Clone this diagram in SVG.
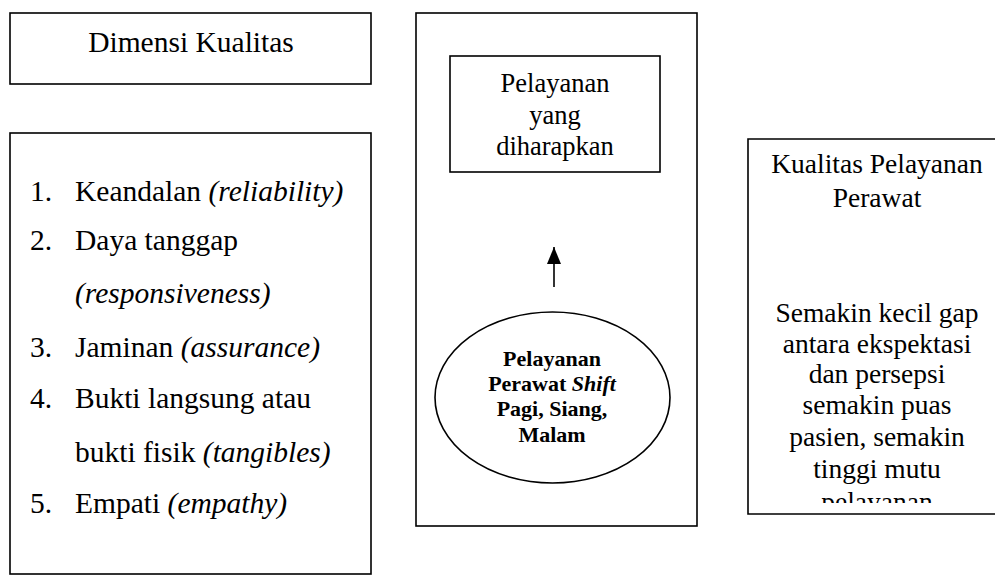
<svg xmlns="http://www.w3.org/2000/svg" width="995" height="576" viewBox="0 0 995 576">
  <style>
    .box { fill: none; stroke: #000; stroke-width: 1.6; }
    text { font-family: "Liberation Serif", "DejaVu Serif", serif; fill: #000; }
    .c { text-anchor: middle; }
    .i { font-style: italic; }
    .b { font-weight: bold; }
    .lg { font-size: 29.5px; }
    .md { font-size: 27.5px; }
    .sm { font-size: 26.5px; }
    .el { font-size: 22px; }
    .conn { stroke: #000; stroke-width: 1.6; fill: none; }
  </style>
  <defs>
    <marker id="arrow" viewBox="0 0 17 14" refX="17" refY="7" markerWidth="17" markerHeight="14" markerUnits="userSpaceOnUse" orient="auto">
      <path d="M0,0 L17,7 L0,14 Z" fill="#000"/>
    </marker>
    <clipPath id="rightClip">
      <rect x="748" y="139" width="260" height="364"/>
    </clipPath>
  </defs>
  <rect width="995" height="576" fill="#fff"/>

  <!-- Quality dimensions heading -->
  <g id="dimensi-kualitas">
    <rect class="box" x="10" y="13" width="361" height="71"/>
    <text class="c lg" x="191" y="52">Dimensi Kualitas</text>
  </g>

  <!-- List of dimensions -->
  <g id="daftar-dimensi">
    <rect class="box" x="10" y="133" width="361" height="441"/>
    <g class="lg">
      <text x="30" y="201">1.</text>
      <text x="75" y="201">Keandalan <tspan class="i">(reliability)</tspan></text>
      <text x="30" y="250">2.</text>
      <text x="75" y="250">Daya tanggap</text>
      <text x="75" y="303" class="i">(responsiveness)</text>
      <text x="30" y="357">3.</text>
      <text x="75" y="357">Jaminan <tspan class="i">(assurance)</tspan></text>
      <text x="30" y="408">4.</text>
      <text x="75" y="408">Bukti langsung atau</text>
      <text x="75" y="462">bukti fisik <tspan class="i">(tangibles)</tspan></text>
      <text x="30" y="513">5.</text>
      <text x="75" y="513">Empati <tspan class="i">(empathy)</tspan></text>
    </g>
  </g>

  <!-- Middle frame -->
  <g id="bingkai-tengah">
    <rect class="box" x="416" y="13" width="281" height="513"/>
  </g>

  <!-- Expected service -->
  <g id="pelayanan-diharapkan">
    <rect class="box" x="450" y="56" width="210" height="116"/>
    <text class="c sm" x="555" y="92">Pelayanan</text>
    <text class="c sm" x="555" y="124">yang</text>
    <text class="c sm" x="555" y="155">diharapkan</text>
  </g>

  <!-- Shift nursing service -->
  <g id="pelayanan-perawat-shift">
    <ellipse class="box" cx="552.5" cy="397.5" rx="117.5" ry="85.5"/>
    <g class="c b el">
      <text x="552" y="366">Pelayanan</text>
      <text x="552" y="391">Perawat <tspan class="i">Shift</tspan></text>
      <text x="552" y="416">Pagi, Siang,</text>
      <text x="552" y="442">Malam</text>
    </g>
  </g>

  <!-- Nurse service quality (open on the right, last line cut by the frame) -->
  <g id="kualitas-pelayanan-perawat">
    <path class="box" d="M1000,139 H748 V514 H1000"/>
    <g class="c md" clip-path="url(#rightClip)">
      <text x="877" y="173">Kualitas Pelayanan</text>
      <text x="877" y="207">Perawat</text>
      <text x="877" y="322">Semakin kecil gap</text>
      <text x="877" y="353">antara ekspektasi</text>
      <text x="877" y="383">dan persepsi</text>
      <text x="877" y="414">semakin puas</text>
      <text x="877" y="446">pasien, semakin</text>
      <text x="877" y="478">tinggi mutu</text>
      <text x="877" y="511">pelayanan</text>
    </g>
  </g>

  <!-- Connectors -->
  <g id="connectors">
    <line class="conn" x1="554" y1="287" x2="554" y2="247" marker-end="url(#arrow)"/>
  </g>
</svg>
